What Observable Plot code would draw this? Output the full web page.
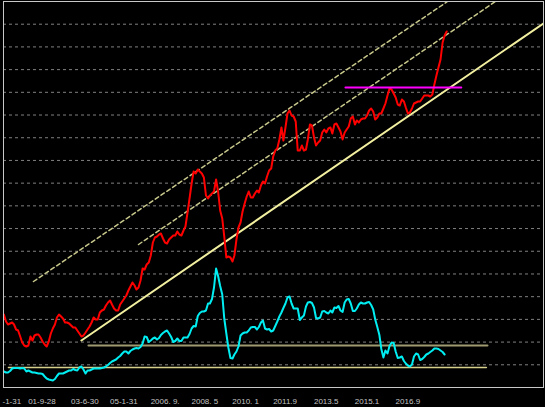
<!DOCTYPE html>
<html><head><meta charset="utf-8">
<script src="https://cdn.jsdelivr.net/npm/d3@7"></script>
<script src="https://cdn.jsdelivr.net/npm/@observablehq/plot@0.6"></script>
<style>html,body{margin:0;padding:0;background:#000;overflow:hidden;}</style>
</head><body><div id="chart"></div>
<script>
// ---- data (arbitrary level units) ----
const firstMonth = "2000-10-01";
const priceValues = [
73,66,63,64,65,63,58,57,51,45,
42,41,42,51,47,52,53,53,50,46,
43,41,46,54,59,63,70,73,71,69,
65,65,64,62,60,60,57,54,51,52,
55,58,61,65,70,68,68,75,77,78,
82,85,87,83,79,77,77,83,86,89,
92,97,101,105,102,98,100,107,119,118,
123,125,132,145,150,151,153,154,149,145,
144,148,150,152,152,156,153,152,157,161,
175,189,204,216,214,218,216,214,210,192,
189,192,194,196,208,196,177,169,151,130,
131,130,126,132,148,160,165,176,184,191,
196,190,190,194,197,195,202,206,204,211,
217,219,231,237,239,248,260,247,260,274,
277,272,271,266,237,237,242,237,238,248,
263,262,250,242,245,247,255,258,255,259,
260,254,263,264,260,256,248,255,258,261,
269,271,263,267,265,268,269,269,272,277,
279,276,268,270,274,274,279,284,292,299,
298,294,290,283,282,288,286,280,274,275,
279,284,285,286,286,289,292,292,292,291,
293,303,312,320,328,345,352,356];
const oscValues = [
16,15,15,16.5,19,19.5,19.5,19.5,19,19.5,
19,16,17,16,15,15,14.5,14,14,13.5,
11,9,8,7.5,7,8.5,11.5,14,14,14,
15,16,17,17,18.5,17.5,17,20,21,18,
14,17,17,18,19,19,19,19,19.5,20,
21,22.5,24.5,26,27,28,30,31.5,34,36,
36,34,36.5,38,39,39.5,39,40.5,44,51,
50.5,45.5,47,49,50,48,49.5,52.5,54.5,56,
57,54,50.5,45.5,46.5,49,46.5,46.5,50,50,
50,53.5,59,61.5,61,71.5,74.5,76,76,77,
84,84,88.5,100,119,111.5,101.5,93,69,54,
40,29.5,29,33,36,41,52,54,55,55,
57,60,60.5,60.5,58,60.5,65,67,59,58,
58.5,56,57,61.5,66,71,75,79.5,84,90,
91,84,79,79,79,67.5,70,72,81,85,
85.5,84.5,80,69.5,69,70,76,76.5,75,74,
77,75,80,79.5,81.5,77,75.5,85,88,88.5,
84,76.5,76.5,79,83,85,84,84,85,85.5,
82.5,78,68,60.5,52.5,38.5,30,37,34,41.5,
45,44.5,36,29.5,30,31,26.5,24,22,21,
23,31,34,33,27.5,28.5,30.5,33,34,35.5,
37,39,39,38.5,37,35.5,33];

// first label is cut by the left edge in the original: only "-1-31" shows
const firstTickLabel = "-1-31";
const tickDates  = ["2001-09-28","2003-06-30","2005-01-31","2006-09-29","2008-05-30","2010-01-29","2011-09-30","2013-05-31","2015-01-30","2016-09-30"];
const tickLabels = ["01-9-28","03-6-30","05-1-31","2006. 9.","2008. 5","2010. 1","2011.9","2013.5","2015.1","2016.9"];

const trendDates = ["2003-12-01","2022-10-13"];      const trendValues = [47, 364];
const upperChanDates = ["2001-12-16","2018-11-13"];  const upperChanValues = [106, 386];
const midChanDates = ["2006-04-01","2020-10-28"];    const midChanValues = [143, 386];
const resistDates = ["2014-09-13","2019-06-07"];     const resistValue = 300;
const oscHighDates = ["2004-03-15","2020-07-01"];    const oscHighValue = 42;
const oscLowDates = ["2000-12-08","2020-06-15"];     const oscLowValue = 20;

const xDomain = ["2000-09-25","2022-10-15"];
const yDomain = [0, 386];
const gridDivisions = 17;

// ---- build tables ----
const t0 = new Date(firstMonth);
const price = priceValues.map((v,i)=>({date: d3.utcMonth.offset(t0,i), v}));
const osc = oscValues.map((v,i)=>({date: d3.utcMonth.offset(t0,i), v}));
const seg = (ds, vs) => ds.map((d,i)=>({date:new Date(d), v: Array.isArray(vs)? vs[i] : vs}));
const ticks = tickDates.map((d,i)=>({date:new Date(d), label:tickLabels[i]}));
const gridLevels = d3.range(1, gridDivisions).map(k => yDomain[1]*k/gridDivisions);
const labelStyle = {fill:"#c4c4c4", fontSize:8, lineAnchor:"middle", textAnchor:"start"};

const chart = Plot.plot({
  width: 545, height: 407,
  marginLeft: 3, marginRight: 2, marginTop: 1, marginBottom: 20,
  style: {background:"#000", fontFamily:"'Liberation Sans', Arial, sans-serif"},
  x: {type:"utc", domain: xDomain.map(d=>new Date(d)), axis: null},
  y: {domain: yDomain, axis: null},
  marks: [
    Plot.ruleY(gridLevels, {stroke:"#808080", strokeWidth:1, strokeDasharray:"3,3"}),
    Plot.line(seg(upperChanDates, upperChanValues), {x:"date", y:"v", stroke:"#c8c88c", strokeWidth:1.5, strokeDasharray:"4,3", clip:true}),
    Plot.line(seg(midChanDates, midChanValues), {x:"date", y:"v", stroke:"#c8c88c", strokeWidth:1.5, strokeDasharray:"4,3", clip:true}),
    Plot.line(seg(oscHighDates, oscHighValue), {x:"date", y:"v", stroke:"#a09a70", strokeWidth:2}),
    Plot.line(seg(oscLowDates, oscLowValue), {x:"date", y:"v", stroke:"#d6d08c", strokeWidth:1.5}),
    Plot.line(osc, {x:"date", y:"v", stroke:"#00eef2", strokeWidth:2}),
    Plot.line(seg(trendDates, trendValues), {x:"date", y:"v", stroke:"#f2f0a0", strokeWidth:2, clip:true}),
    Plot.line(price, {x:"date", y:"v", stroke:"#ff0000", strokeWidth:2}),
    Plot.line(seg(resistDates, resistValue), {x:"date", y:"v", stroke:"#ff00ff", strokeWidth:2}),
    Plot.frame({stroke:"#c8c8c8", strokeWidth:1}),
    Plot.text([firstTickLabel], {text: d=>d, frameAnchor:"bottom-left", dx:-1, dy:14, ...labelStyle}),
    Plot.text(ticks, {x:"date", text:"label", frameAnchor:"bottom", dy:14, ...labelStyle})
  ]
});
document.getElementById("chart").appendChild(chart);
</script>
</body></html>
